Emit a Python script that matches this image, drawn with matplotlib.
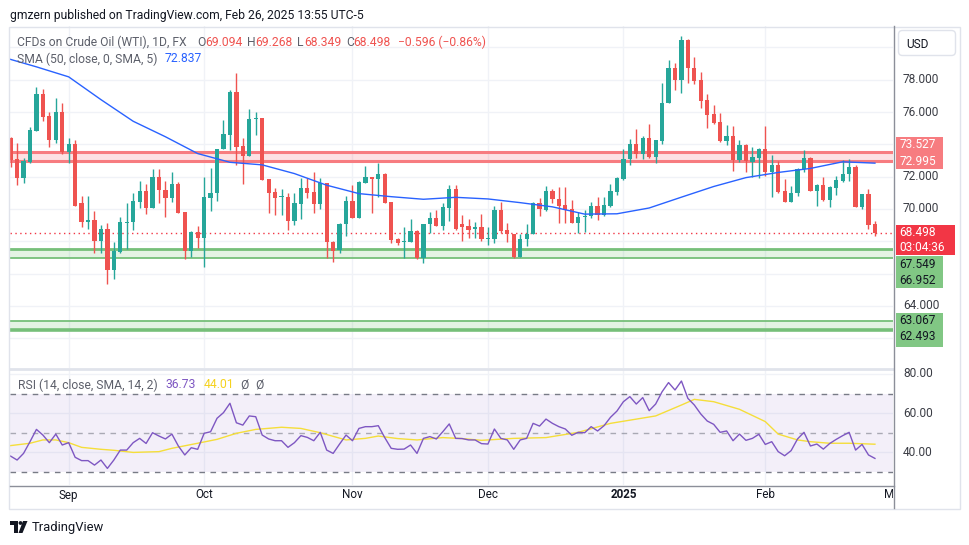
import numpy as np
import matplotlib.pyplot as plt
from matplotlib.patches import Rectangle, FancyBboxPatch, Polygon, Circle

plt.rcParams['font.family'] = ['Roboto', 'DejaVu Sans']

W, H = 970, 545

# daily bars, bar 1 = Aug 20 2024 ... bar 135 = Feb 26 2025
opens = [
    74.37, 73.09, 71.90, 72.93, 74.85, 77.12, 75.75, 74.27, 76.02, 73.55,
    74.02, 70.35, 69.21, 69.31, 68.04, 68.74, 66.22, 67.35, 69.15, 69.17,
    70.45, 71.11, 70.08, 72.00, 71.17, 70.70, 71.54, 69.79, 67.42, 68.59,
    68.22, 70.70, 70.97, 73.69, 74.58, 77.22, 73.90, 73.28, 75.55, 75.65,
    71.85, 71.03, 70.72, 70.72, 69.27, 70.31, 71.28, 71.03, 70.31, 71.59,
    67.97, 67.46, 69.05, 70.49, 69.42, 71.63, 72.00, 71.83, 72.16, 70.41,
    68.12, 67.93, 67.97, 68.63, 66.94, 69.07, 69.42, 68.94, 70.08, 71.23,
    69.07, 68.94, 68.74, 68.90, 68.12, 68.12, 69.93, 68.70, 68.45, 67.04,
    68.12, 68.45, 70.35, 69.93, 71.09, 70.62, 70.24, 69.98, 69.15, 69.52,
    69.56, 70.18, 69.63, 70.18, 71.07, 71.87, 73.07, 74.02, 73.40, 74.41,
    73.24, 74.21, 76.54, 78.75, 77.98, 80.46, 78.71, 77.98, 76.75, 75.86,
    75.36, 74.23, 74.52, 73.03, 73.96, 72.93, 73.17, 73.71, 72.31, 72.72,
    71.11, 70.45, 70.97, 72.45, 73.17, 71.13, 71.48, 70.55, 71.32, 71.73,
    72.14, 72.62, 70.14, 70.93, 69.094]
highs = [
    74.43, 74.06, 73.13, 75.05, 77.57, 77.41, 76.02, 76.85, 76.54, 74.37,
    74.27, 70.82, 70.82, 69.89, 69.01, 69.11, 67.97, 69.52, 70.35, 70.97,
    71.75, 71.54, 72.45, 72.45, 71.75, 72.31, 71.69, 69.83, 68.65, 68.96,
    72.00, 72.51, 73.71, 75.51, 77.36, 78.44, 74.37, 76.19, 76.02, 75.65,
    71.85, 71.28, 71.23, 71.01, 71.01, 71.94, 71.90, 72.31, 71.90, 71.59,
    68.04, 69.15, 70.80, 71.48, 71.75, 72.66, 72.00, 72.82, 72.20, 70.45,
    68.18, 68.90, 69.36, 68.70, 69.07, 69.83, 69.93, 70.39, 71.48, 71.48,
    69.63, 69.36, 69.21, 69.69, 68.90, 70.18, 70.45, 69.15, 68.45, 68.45,
    69.07, 70.45, 70.66, 71.44, 71.21, 71.34, 71.38, 70.55, 69.83, 69.93,
    70.41, 70.76, 70.76, 71.54, 72.00, 73.71, 74.33, 74.95, 74.52, 75.26,
    74.27, 77.82, 79.22, 79.06, 80.71, 80.52, 79.39, 78.46, 77.12, 76.44,
    75.92, 75.20, 75.14, 74.27, 74.02, 73.86, 73.79, 75.14, 73.34, 72.97,
    71.85, 71.42, 72.56, 73.65, 73.24, 71.54, 72.00, 71.44, 72.06, 73.03,
    73.07, 72.72, 70.93, 71.21, 69.268]
lows = [
    72.58, 71.48, 71.59, 72.82, 74.85, 75.47, 73.81, 74.06, 73.40, 72.87,
    70.18, 68.90, 68.76, 67.25, 67.25, 65.35, 65.64, 67.25, 67.52, 68.70,
    70.04, 69.67, 70.08, 70.35, 69.52, 70.45, 69.77, 66.88, 67.00, 67.56,
    66.38, 69.89, 70.51, 73.69, 73.65, 72.72, 71.54, 73.28, 74.58, 71.79,
    69.73, 69.62, 69.62, 68.70, 69.01, 69.36, 70.66, 69.77, 69.98, 66.94,
    66.74, 67.29, 68.32, 69.42, 69.42, 71.63, 69.77, 70.72, 70.35, 67.91,
    67.77, 66.94, 67.93, 66.88, 66.63, 68.49, 68.94, 68.70, 69.27, 68.70,
    68.04, 68.18, 68.18, 68.04, 67.77, 67.91, 68.49, 67.97, 66.98, 67.04,
    67.70, 68.45, 69.58, 69.87, 70.39, 69.15, 69.15, 69.11, 68.49, 68.59,
    69.42, 69.31, 69.56, 70.14, 70.86, 71.79, 72.72, 73.13, 73.09, 73.17,
    72.87, 74.02, 76.54, 77.36, 77.20, 77.82, 77.74, 76.27, 75.03, 75.26,
    74.17, 73.96, 72.37, 72.93, 72.31, 72.00, 71.94, 72.06, 70.72, 70.97,
    70.45, 70.45, 70.82, 72.31, 71.13, 70.20, 70.49, 70.14, 70.86, 71.69,
    71.75, 70.14, 69.99, 68.74, 68.349]
closes = [
    73.03, 71.90, 72.97, 74.89, 77.12, 75.71, 74.27, 76.02, 73.55, 74.02,
    70.18, 69.21, 69.31, 68.04, 68.74, 66.22, 67.42, 69.17, 69.21, 70.49,
    71.11, 70.08, 72.00, 71.17, 70.70, 71.54, 69.77, 67.42, 68.59, 68.22,
    70.76, 71.01, 73.71, 74.64, 77.26, 73.86, 73.28, 75.57, 75.65, 71.79,
    71.01, 70.66, 70.76, 69.27, 70.35, 71.28, 71.01, 70.31, 71.59, 67.97,
    67.42, 69.07, 70.49, 69.42, 71.69, 72.00, 71.85, 72.16, 70.39, 68.08,
    67.91, 67.97, 68.63, 66.94, 69.07, 69.46, 68.94, 70.14, 71.23, 68.76,
    68.90, 68.70, 68.86, 68.12, 68.16, 69.93, 68.63, 68.43, 67.04, 68.14,
    68.45, 70.35, 69.98, 71.11, 70.60, 70.20, 69.93, 69.15, 69.48, 69.56,
    70.18, 69.63, 70.24, 71.11, 71.94, 73.09, 74.02, 73.38, 74.41, 73.24,
    74.27, 76.54, 78.75, 77.98, 80.46, 78.71, 77.94, 76.70, 75.84, 75.34,
    74.23, 74.52, 73.03, 73.96, 72.99, 73.24, 73.71, 72.31, 72.72, 71.07,
    70.45, 71.01, 72.47, 73.17, 71.13, 71.48, 70.55, 71.34, 71.79, 72.16,
    72.62, 70.14, 70.93, 69.01, 68.498]

# SMA(50) at sample bars
sma_idx = [0, 1, 5, 10, 15, 20, 25, 30, 35, 40, 45, 50, 55, 60, 65, 70,
           75, 80, 85, 90, 95, 100, 105, 110, 115, 120, 125, 130, 135]
sma_val = [79.38, 79.26, 78.80, 78.18, 76.77, 75.43, 74.47, 73.43, 72.89,
           72.73, 72.19, 71.47, 70.95, 70.76, 70.60, 70.72, 70.62, 70.39,
           70.13, 69.68, 69.70, 70.06, 70.73, 71.39, 71.94, 72.26, 72.51,
           72.92, 72.837]

rsi = [
    37.9, 35.9, 39.3, 45.3, 51.6, 48.7, 44.8, 49.2, 43.6, 44.8,
    37.3, 35.6, 35.6, 33.3, 35.9, 31.6, 35.9, 41.0, 41.0, 44.8,
    47.0, 44.4, 49.9, 48.2, 46.7, 49.2, 43.1, 38.5, 42.2, 41.4,
    49.6, 50.4, 57.3, 60.2, 65.0, 55.0, 53.8, 58.5, 58.1, 48.7,
    46.7, 45.8, 45.8, 42.4, 44.8, 48.4, 47.5, 45.8, 50.1, 41.0,
    39.3, 44.1, 48.7, 45.8, 52.1, 53.0, 53.0, 53.5, 47.4, 41.9,
    41.4, 41.5, 43.6, 39.3, 47.0, 47.9, 46.7, 50.4, 54.4, 47.0,
    46.9, 46.2, 46.2, 44.3, 44.1, 51.8, 47.0, 46.2, 41.4, 46.2,
    47.0, 54.7, 53.3, 56.9, 54.7, 53.0, 51.8, 48.6, 50.1, 49.9,
    53.0, 50.8, 53.5, 57.8, 61.0, 65.8, 68.4, 64.6, 67.9, 61.2,
    64.6, 70.9, 75.6, 71.8, 76.4, 67.5, 64.1, 59.5, 55.9, 54.2,
    50.1, 50.8, 45.8, 49.2, 46.0, 47.0, 49.1, 43.9, 45.3, 40.2,
    38.1, 40.7, 46.7, 50.1, 43.1, 44.1, 41.5, 44.4, 46.5, 48.4,
    50.1, 41.0, 43.9, 38.5, 36.73]
rsi_ma_idx = [1, 4, 6, 8, 10, 12, 15, 17, 20, 24, 26, 30, 33, 36, 39, 43, 46,
              49, 53, 56, 58, 61, 64, 68, 71, 74, 79, 84, 89, 94, 101, 105,
              107, 110, 114, 118, 120, 123, 125, 128, 131, 135]
rsi_ma_val = [43.3, 44.5, 46.2, 46.2, 44.8, 42.4, 41.4, 40.9, 39.8, 40.2,
              41.9, 44.5, 46.5, 49.6, 51.6, 52.7, 52.1, 49.9, 46.2, 47.0,
              48.2, 46.9, 46.2, 47.4, 46.9, 46.0, 47.0, 47.4, 50.1, 54.7,
              58.5, 64.1, 67.0, 65.8, 61.9, 55.6, 49.2, 46.2, 45.3, 44.5,
              44.5, 44.01]

month_idx = [10, 31, 54, 75, 96, 118, 138]
month_lbl = ['Sep', 'Oct', 'Nov', 'Dec', '2025', 'Feb', 'Mar']

resist = (72.995, 73.527)
support1 = (66.952, 67.45, 67.549)
support2 = (62.493, 63.067)
last_price = 68.498
price_ticks = [64, 70, 72, 76, 78]
rsi_ticks = [40, 60, 80]

UP = '#26a69a'
DN = '#ef5350'
GRID = '#f0f2f7'
TXT = '#131722'
GRAY = '#5d606b'
FS = 8.7

fig = plt.figure(figsize=(W / 100, H / 100), dpi=100)


def box(x0, y0, x1, y1):
    return [x0 / W, 1 - y1 / H, (x1 - x0) / W, (y1 - y0) / H]


ax = fig.add_axes(box(10, 26, 893, 368))
rax = fig.add_axes(box(10, 370, 893, 485))
dax = fig.add_axes(box(10, 486, 893, 506))
ov = fig.add_axes([0, 0, 1, 1], zorder=10)
ov.set_xlim(0, W)
ov.set_ylim(H, 0)
ov.axis('off')

for a in (ax, rax, dax):
    a.set_xlim(0.9, 137.8)
    a.axis('off')
ax.set_ylim(60.15, 81.33)
rax.set_ylim(23.1, 82.05)
dax.set_ylim(0, 1)

# grid
for p in range(62, 82, 2):
    ax.axhline(p, color=GRID, lw=1, zorder=0)
for r in rsi_ticks:
    rax.axhline(r, color=GRID, lw=1, zorder=0)
for m in month_idx:
    ax.axvline(m, color=GRID, lw=1, zorder=0)
    rax.axvline(m, color=GRID, lw=1, zorder=0)

# zones
ax.axhspan(*resist, color='#f23645', alpha=0.15, lw=0, zorder=1)
for p in resist:
    ax.axhline(p, color='#f77c80', lw=2.2, zorder=2)
ax.axhspan(support1[0], support1[1], color='#4caf50', alpha=0.15, lw=0, zorder=1)
for p in support1:
    ax.axhline(p, color='#76bf79', lw=1.3, zorder=2)
ax.axhspan(*support2, color='#4caf50', alpha=0.15, lw=0, zorder=1)
ax.axhline(support2[1], color='#76bf79', lw=1.3, zorder=2)
ax.axhline(support2[0], color='#76bf79', lw=2.6, zorder=2)
ax.axhline(last_price, color='#f23645', lw=1, ls=(0, (1, 2.5)), zorder=2)

# candles
o, h, l, c = map(np.array, (opens, highs, lows, closes))
idx = np.arange(1, len(o) + 1)
col = np.where(c >= o, UP, DN)
ax.vlines(idx, l, h, colors=col, lw=1, zorder=3)
ax.bar(idx, np.maximum(np.abs(c - o), 0.06), bottom=np.minimum(o, c),
       width=0.66, color=col, lw=0, zorder=4)

ax.plot(sma_idx, sma_val, color='#2962ff', lw=1, zorder=5)

# rsi pane
rax.axhspan(30, 70, color='#7e57c2', alpha=0.09, lw=0, zorder=1)
for r, al in [(70, 1), (50, 0.6), (30, 1)]:
    rax.axhline(r, color='#787b86', lw=1, ls=(0, (4, 4)), alpha=al, zorder=2)
rax.plot(rsi_ma_idx, rsi_ma_val, color='#f5de3a', lw=1, zorder=3)
rax.plot(idx, rsi, color='#7e57c2', lw=1, zorder=4)


def py(a, v):
    return H - a.transData.transform((0, v))[1]


# frame and separators
ov.add_patch(Rectangle((9.5, 26.5), 951, 482, fill=False, ec='#e0e3eb', lw=1))
ov.plot([10, 893], [368.5, 368.5], color='#e0e3eb', lw=2)
ov.plot([10, 894], [485.5, 485.5], color='#8c8f99', lw=1)
ov.plot([894, 894], [26, 508], color='#8c8f99', lw=1)

# price scale
for p in price_ticks:
    ov.text(903, py(ax, p), f'{p:.3f}', fontsize=8.6, color='#3b3d45', va='center')
for r in rsi_ticks:
    ov.text(903, py(rax, r), f'{r:.2f}', fontsize=8.6, color='#3b3d45', va='center')

ov.add_patch(FancyBboxPatch((898.5, 30.5), 57, 25, boxstyle='round,pad=0,rounding_size=4',
                            fc='white', ec='#e0e3eb', lw=1))
ov.text(906, 44, 'USD', fontsize=8.6, color=TXT, va='center')

tags = [
    ((896, 137, 943, 169), '#f77c80', 'white', [(f'{resist[1]:.3f}', 145), (f'{resist[0]:.3f}', 161.5)]),
    ((896, 225, 955, 255), '#f23645', 'white', [(f'{last_price:.3f}', 232.5), ('03:04:36', 247.5)]),
    ((896, 256, 943, 288), '#81c784', TXT, [(f'{support1[2]:.3f}', 264), (f'{support1[0]:.3f}', 280)]),
    ((896, 313, 943, 347), '#81c784', TXT, [(f'{support2[1]:.3f}', 320.5), (f'{support2[0]:.3f}', 337)]),
]
for (x0, y0, x1, y1), fc, tc, lines in tags:
    ov.add_patch(Rectangle((x0, y0), x1 - x0, y1 - y0, fc=fc, ec='none'))
    for s, yy in lines:
        ov.text(899.5, yy, s, fontsize=8.6, color=tc, va='center')

# time axis
for m, s in zip(month_idx, month_lbl):
    dax.text(m, 0.55, s, fontsize=8.4, color=TXT, ha='center', va='center',
             fontweight='bold' if s == '2025' else 'normal', clip_on=True)

# legends
ov.text(10.5, 15, 'gmzern published on TradingView.com, Feb 26, 2025 13:55 UTC-5',
        fontsize=FS, color=TXT, va='center')
legend = [(17.3, 'CFDs on Crude Oil (WTI), 1D, FX', GRAY), (197, 'O', GRAY),
          (205.5, '69.094', DN), (247.5, 'H', GRAY), (255, '69.268', DN),
          (297.5, 'L', GRAY), (304, '68.349', DN), (346, 'C', GRAY),
          (353, '68.498', DN), (398.5, '\u22120.596 (\u22120.86%)', DN)]
for x, s, cc in legend:
    ov.text(x, 42, s, fontsize=FS, color=cc, va='center')
ov.text(17.3, 59, 'SMA (50, close, 0, SMA, 5)', fontsize=FS, color=GRAY, va='center')
ov.text(165, 59, f'{sma_val[-1]:.3f}', fontsize=FS, color='#2962ff', va='center')
ov.text(18.3, 385, 'RSI (14, close, SMA, 14, 2)', fontsize=FS, color=GRAY, va='center')
ov.text(165.7, 385, f'{rsi[-1]:.2f}', fontsize=FS, color='#7e57c2', va='center')
ov.text(203.3, 385, f'{rsi_ma_val[-1]:.2f}', fontsize=FS, color='#f5d21f', va='center')
ov.text(240.7, 385, '\u00d8', fontsize=FS, color=GRAY, va='center')
ov.text(255.7, 385, '\u00d8', fontsize=FS, color=GRAY, va='center')

# TradingView logo
ov.add_patch(Polygon([(10, 521), (18, 521), (18, 533), (14, 533), (14, 525), (10, 525)],
                     closed=True, fc=TXT, ec='none'))
ov.add_patch(Circle((20.5, 523), 1.9, fc=TXT, ec='none'))
ov.add_patch(Polygon([(23, 521), (27.5, 521), (22.5, 533), (18.5, 533)], closed=True,
                     fc=TXT, ec='none'))
ov.text(32, 527, 'TradingView', fontsize=9.4, color=TXT, va='center')

fig.savefig('out.png', dpi=100)
